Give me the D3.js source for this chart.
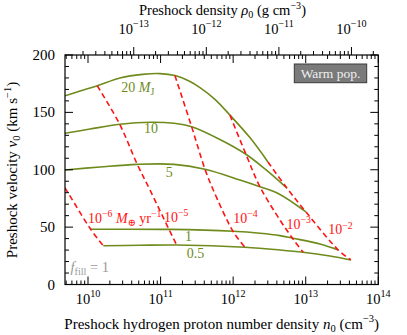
<!DOCTYPE html>
<html><head><meta charset="utf-8">
<script src="https://cdn.jsdelivr.net/npm/d3@7/dist/d3.min.js"></script>
<style>body{margin:0;background:#fff}svg{display:block}</style>
</head><body>
<svg id="c" width="407" height="335"></svg>
<script>
// ---- data: [log10 n0 (cm^-3), v0 (km/s)] ----
const massNames = ["20", "10", "5", "1", "0.5"];
const m20 = [[9.683,164.5],[9.890,168.6],[10.128,173.2],[10.441,179.9],[10.750,183.1],[10.992,183.8],[11.198,182.1],[11.405,176.9],[11.543,171.6],[11.749,161.4],[11.956,147.6],[12.231,128.0],[12.479,106.8]];
const m10 = [[9.683,131.8],[10.028,135.5],[10.437,139.6],[10.864,141.4],[11.185,140.5],[11.428,137.5],[11.818,126.4],[12.176,113.5],[12.438,100.7],[12.741,84.0]];
const m5  = [[9.683,99.8],[10.165,102.4],[10.679,104.7],[11.185,104.7],[11.612,100.4],[12.094,91.1],[12.369,85.2],[12.645,78.5],[13.003,63.2]];
const m1  = [[10.037,48.1],[11.129,48.0],[11.997,46.4],[12.369,44.7],[12.645,42.6],[12.824,40.3],[13.196,35.3],[13.448,30.1]];
const m05 = [[10.211,33.8],[10.716,34.2],[11.222,34.4],[12.163,32.4],[12.645,30.1],[12.965,28.1],[13.333,24.8],[13.623,21.4]];

const mdotExps = ["−6", "−5", "−4", "−3", "−2"];
const md6 = [[9.34,117.0],[9.683,84.1],[10.037,48.1],[10.211,33.8]];
const md5 = [[10.128,173.2],[10.437,139.6],[10.679,104.7],[10.854,82.4],[11.115,48.1],[11.222,34.4]];
const md4 = [[11.198,182.1],[11.428,137.5],[11.612,100.4],[11.726,82.4],[12.001,46.0],[12.163,32.4]];
const md3 = [[11.956,147.6],[12.176,113.5],[12.369,85.2],[12.645,56.2],[12.828,39.4],[12.965,28.1]];
const md2 = [[12.479,106.8],[12.741,84.0],[13.003,63.2],[13.448,30.1],[13.623,21.4]];

const nTickExps = [10, 11, 12, 13, 14];
const rhoTickExps = [-13, -12, -11, -10];
const vTicks = [0, 50, 100, 150, 200];
const rhoPerN = 1.4 * 1.6735e-24; // g per hydrogen nucleus

// ---- layout ----
const svg = d3.select("#c");
const L = 65, R = 378.3, T = 55, B = 284.5;
const x = d3.scaleLog().domain([Math.pow(10, 9.683), 1e14]).range([L, R]);
const y = d3.scaleLinear().domain([0, 200]).range([B, T]);
const FONT = "'Liberation Serif', 'DejaVu Serif', serif";
const GREEN = "#6e8b1c", RED = "#ff1414";

svg.append("defs").append("clipPath").attr("id", "clip")
  .append("rect").attr("x", L).attr("y", T).attr("width", R - L).attr("height", B - T);

function rich(sel, parts, size) {
  let shift = 0;
  parts.forEach(p => {
    const ts = sel.append("tspan").text(p.t);
    let target = 0, fs = size;
    if (p.sup) { target = -0.42 * size; fs = 0.7 * size; }
    if (p.sub) { target = 0.22 * size; fs = 0.7 * size; }
    ts.attr("font-size", fs);
    if (target !== shift) ts.attr("dy", target - shift);
    shift = target;
    if (p.i) ts.attr("font-style", "italic");
  });
  return sel;
}

const line = d3.line().x(d => x(Math.pow(10, d[0]))).y(d => y(d[1])).curve(d3.curveCatmullRom.alpha(0.5));
const plot = svg.append("g").attr("clip-path", "url(#clip)");

[m20, m10, m5, m1, m05].forEach(s => {
  plot.append("path").attr("d", line(s)).attr("fill", "none")
    .attr("stroke", GREEN).attr("stroke-width", 1.6);
});
[md6, md5, md4, md3, md2].forEach(s => {
  plot.append("path").attr("d", line(s)).attr("fill", "none")
    .attr("stroke", RED).attr("stroke-width", 1.6).attr("stroke-dasharray", "5.5,3.5");
});

svg.append("rect").attr("x", L).attr("y", T).attr("width", R - L).attr("height", B - T)
  .attr("fill", "none").attr("stroke", "#000").attr("stroke-width", 1.2);

const tg = svg.append("g").attr("stroke", "#000").attr("stroke-width", 1);
function vtick(px, y0, len) { tg.append("line").attr("x1", px).attr("x2", px).attr("y1", y0).attr("y2", y0 + len); }
function htick(py, x0, len) { tg.append("line").attr("y1", py).attr("y2", py).attr("x1", x0).attr("x2", x0 + len); }
const [nLo, nHi] = x.domain();
for (let e = 9; e <= 14; e++) {
  for (let k = 1; k <= 9; k++) {
    const n = k * Math.pow(10, e);
    if (n < nLo * 0.999 || n > nHi * 1.001) continue;
    const len = k === 1 ? 8 : 4;
    vtick(x(n), B, -len);
    vtick(x(n), T, len);
  }
}
for (let e = -15; e <= -9; e++) {
  for (let k = 1; k <= 9; k++) {
    const n = k * Math.pow(10, e) / rhoPerN;
    if (n < nLo * 0.999 || n > nHi * 1.001) continue;
    vtick(x(n), T, k === 1 ? -8 : -4);
  }
}
for (let v = 0; v <= 200; v += 10) {
  const len = v % 50 === 0 ? 8 : 4;
  htick(y(v), L, len);
  htick(y(v), R, -len);
}

const lab = svg.append("g").attr("font-family", FONT).attr("fill", "#000");
vTicks.forEach(v => {
  lab.append("text").attr("x", 55).attr("y", y(v) + 5).attr("text-anchor", "end")
    .attr("font-size", 15).text(v);
});
nTickExps.forEach(e => {
  const t = lab.append("text").attr("x", x(Math.pow(10, e))).attr("y", 303.5).attr("text-anchor", "middle");
  rich(t, [{t: "10"}, {t: String(e), sup: true}], 14.5);
});
rhoTickExps.forEach(e => {
  const t = lab.append("text").attr("x", x(Math.pow(10, e) / rhoPerN)).attr("y", 33.5).attr("text-anchor", "middle");
  rich(t, [{t: "10"}, {t: "−" + String(-e), sup: true}], 14.5);
});

rich(lab.append("text").attr("x", 221.7).attr("y", 328.5).attr("text-anchor", "middle"),
  [{t: "Preshock hydrogen proton number density "}, {t: "n", i: true}, {t: "0", sub: true}, {t: " (cm"}, {t: "−3", sup: true}, {t: ")"}], 15);
rich(lab.append("text").attr("x", 222.5).attr("y", 15).attr("text-anchor", "middle"),
  [{t: "Preshock density "}, {t: "ρ", i: true}, {t: "0", sub: true}, {t: " (g cm"}, {t: "−3", sup: true}, {t: ")"}], 14.5);
rich(lab.append("text").attr("transform", "translate(17,170) rotate(-90)").attr("text-anchor", "middle"),
  [{t: "Preshock velocity "}, {t: "v", i: true}, {t: "0", sub: true}, {t: " (km s"}, {t: "−1", sup: true}, {t: ")"}], 15);

const cl = svg.append("g").attr("font-family", FONT);
function at(ln, v) { return [x(Math.pow(10, ln)), y(v)]; }
function label(pos, parts, color, size) {
  const t = cl.append("text").attr("x", pos[0]).attr("y", pos[1]).attr("fill", color);
  return rich(t, parts, size || 14);
}
label(at(10.458, 167.4), [{t: massNames[0] + " "}, {t: "M", i: true}, {t: "J", sub: true}], GREEN);
label(at(10.771, 131.8), [{t: massNames[1]}], GREEN);
label(at(11.07, 93.7), [{t: massNames[2]}], GREEN);
label(at(11.336, 38.2), [{t: massNames[3]}], GREEN);
label(at(11.359, 23.1), [{t: massNames[4]}], GREEN);

label(at(10.0, 54.0), [{t: "10"}, {t: mdotExps[0], sup: true}, {t: " "}, {t: "M", i: true}, {t: "⊕", sub: true}, {t: " yr"}, {t: "−1", sup: true}], RED);
label(at(11.047, 54.9), [{t: "10"}, {t: mdotExps[1], sup: true}], RED);
label(at(12.001, 53.3), [{t: "10"}, {t: mdotExps[2], sup: true}], RED);
label(at(12.734, 48.1), [{t: "10"}, {t: mdotExps[3], sup: true}], RED);
label(at(13.31, 43.6), [{t: "10"}, {t: mdotExps[4], sup: true}], RED);

label(at(9.76, 11.3), [{t: "f", i: true}, {t: "fill", sub: true}, {t: " = 1"}], "#9a9a9a", 14.5);

svg.append("rect").attr("x", 294.3).attr("y", 64).attr("width", 72.4).attr("height", 18.7)
  .attr("fill", "#7a7a7a").attr("stroke", "#3a3a3a").attr("stroke-width", 1);
svg.append("text").attr("x", 330.5).attr("y", 78).attr("text-anchor", "middle")
  .attr("font-family", FONT).attr("font-size", 13.5).attr("fill", "#f0f0f0").text("Warm pop.");
</script>
</body></html>
